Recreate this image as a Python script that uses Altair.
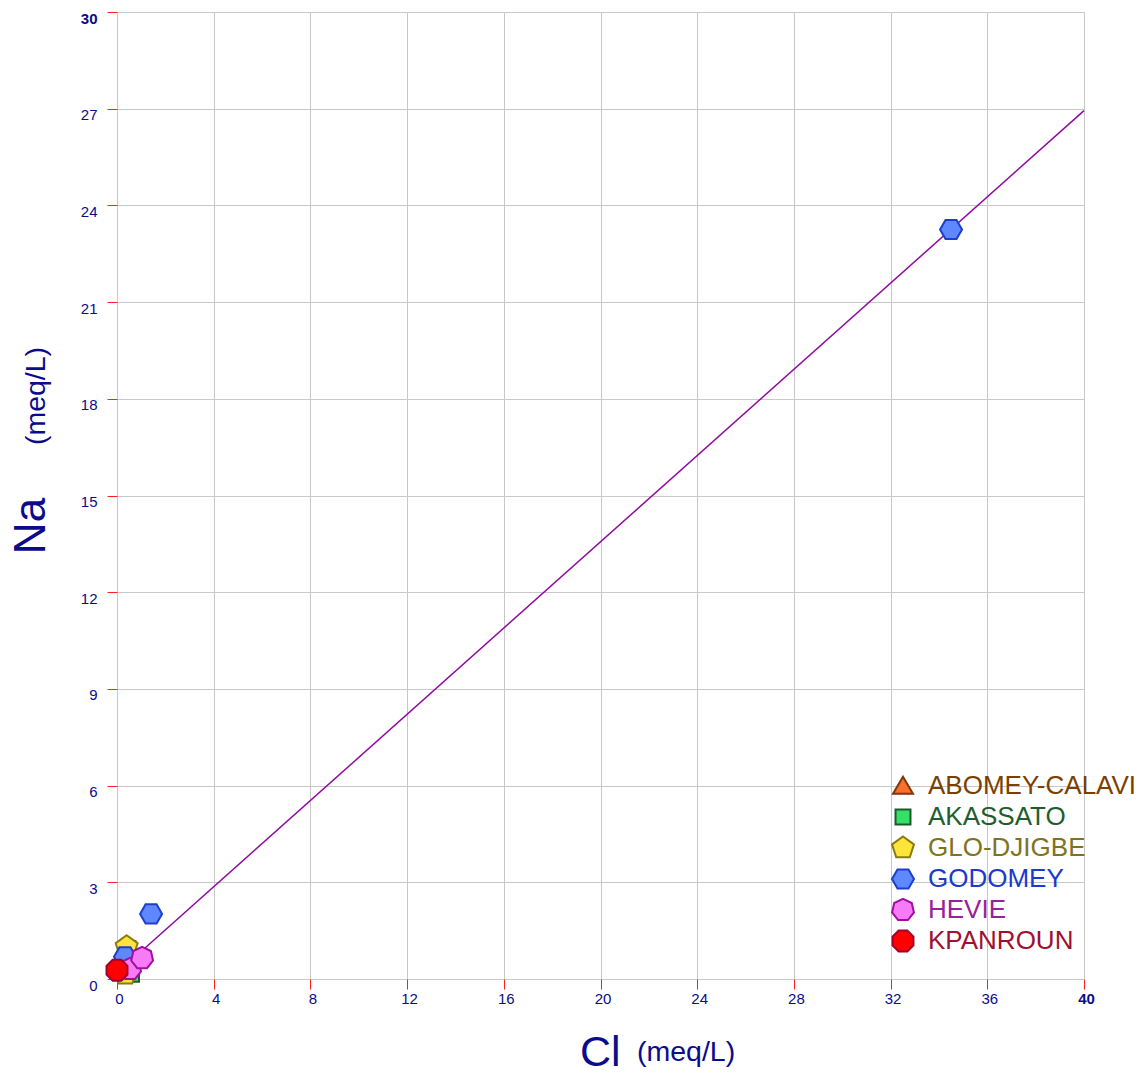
import math
import altair as alt
import pandas as pd

# Sampling sites (legend order) and their styling
sites = ["ABOMEY-CALAVI", "AKASSATO", "GLO-DJIGBE", "GODOMEY", "HEVIE", "KPANROUN"]
fill_colors = ["#FA6E2E", "#35E067", "#FFE43A", "#5F87FF", "#F77BF7", "#FF0000"]
stroke_colors = ["#7A3A0A", "#1A5B2A", "#8A7A10", "#1B3FCC", "#A010A0", "#A00030"]
label_colors = ["#7B3F00", "#1E5E2E", "#7E7320", "#1A3BCC", "#9A209A", "#A01030"]

# Samples: Cl and Na concentrations (meq/L)
sample_site = ["AKASSATO", "AKASSATO", "GLO-DJIGBE", "GLO-DJIGBE", "GODOMEY",
               "GODOMEY", "GODOMEY", "HEVIE", "HEVIE", "KPANROUN"]
cl = [0.45, 0.60, 0.35, 0.40, 0.33, 1.41, 34.5, 0.54, 1.04, 0.0]
na = [0.95, 0.15, 0.15, 1.00, 0.69, 2.02, 23.25, 0.31, 0.65, 0.27]

# Na/Cl trend line end points
line_cl = [0.5, 40.0]
line_na = [0.52, 26.94]

x_ticks = list(range(0, 41, 4))
y_ticks = list(range(0, 31, 3))

NAVY = "#0B0B8C"
FONT = "Liberation Sans"


def polygon(n, radius, start_deg):
    pts = []
    for k in range(n):
        a = math.radians(start_deg + 360.0 * k / n)
        pts.append(f"{radius * math.cos(a):.4f},{radius * math.sin(a):.4f}")
    return "M" + " L".join(pts) + " Z"


shape_paths = [
    "M0,-0.85 L0.91,0.70 L-0.91,0.70 Z",          # triangle
    "M-0.68,-0.68 L0.68,-0.68 L0.68,0.68 L-0.68,0.68 Z",  # square
    polygon(5, 1.05, -90),                         # pentagon
    polygon(6, 1.0, 0),                            # hexagon
    polygon(7, 1.02, -90),                         # heptagon
    polygon(8, 1.03, 22.5),                        # octagon
]

label_expr = " : ".join(
    [f"datum.label == '{s}' ? '{c}'" for s, c in zip(sites, label_colors)]
) + " : '#000000'"

pts = pd.DataFrame({"site": sample_site, "cl": cl, "na": na})
pts["order"] = pts["site"].map({s: i for i, s in enumerate(sites)})
line_df = pd.DataFrame({"cl": line_cl, "na": line_na})

x_scale = alt.Scale(domain=[0, 40], nice=False, zero=True)
y_scale = alt.Scale(domain=[0, 30], nice=False, zero=True)

x_axis = alt.Axis(
    values=x_ticks, title=None, grid=True, gridColor="#C8C8C8", gridWidth=1,
    domain=False, tickColor="#FF2020", tickSize=10, tickWidth=1,
    labelColor=NAVY, labelFont=FONT, labelFontSize=15, labelPadding=2,
    labelOffset=2, labelFlush=False,
    labelFontWeight=alt.condition("datum.value == 40", alt.value("bold"), alt.value("normal")),
)
y_axis = alt.Axis(
    values=y_ticks, title=None, grid=True, gridColor="#C8C8C8", gridWidth=1,
    domain=False, tickColor="#FF2020", tickSize=10, tickWidth=1,
    labelColor=NAVY, labelFont=FONT, labelFontSize=15, labelPadding=10,
    labelOffset=6, labelFlush=False,
    labelFontWeight=alt.condition("datum.value == 30", alt.value("bold"), alt.value("normal")),
)

legend = alt.Legend(
    title=None, orient="none", legendX=773, legendY=761, padding=0,
    labelFont=FONT, labelFontSize=26, labelOffset=12, rowPadding=0,
    gridAlign="all", labelLimit=0, symbolSize=484, symbolStrokeWidth=2,
    symbolOpacity=1, labelColor=alt.ExprRef(expr=label_expr),
)

trend = alt.Chart(line_df).mark_line(color="#8E0C9E", strokeWidth=1.5).encode(
    x=alt.X("cl:Q", scale=x_scale, axis=x_axis),
    y=alt.Y("na:Q", scale=y_scale, axis=y_axis),
)

points = alt.Chart(pts).mark_point(size=484, strokeWidth=2, opacity=1, fillOpacity=1).encode(
    x=alt.X("cl:Q", scale=x_scale),
    y=alt.Y("na:Q", scale=y_scale),
    fill=alt.Fill("site:N", scale=alt.Scale(domain=sites, range=fill_colors), legend=legend),
    stroke=alt.Stroke("site:N", scale=alt.Scale(domain=sites, range=stroke_colors), legend=legend),
    shape=alt.Shape("site:N", scale=alt.Scale(domain=sites, range=shape_paths), legend=legend),
    order=alt.Order("order:Q"),
)

blank = pd.DataFrame({"k": [0]})


def label(text, x, y, size, angle=0, align="left", baseline="alphabetic"):
    return alt.Chart(blank).mark_text(
        text=text, font=FONT, fontSize=size, color=NAVY, angle=angle,
        align=align, baseline=baseline,
    ).encode(x=alt.value(x), y=alt.value(y))


titles = [
    label("Cl", 463, 1054, 43),
    label("(meq/L)", 520, 1049, 28.5),
    label("Na", -72, 514, 44, angle=270, align="center"),
    label("(meq/L)", -72, 384, 28.5, angle=270, align="center"),
]

chart = alt.layer(trend, points, *titles).properties(
    width=967, height=967,
    autosize=alt.AutoSizeParams(type="none"),
    padding={"left": 117, "top": 12, "right": 64, "bottom": 95},
).configure_view(stroke=None)

chart.save("out.html", embed_options={"renderer": "svg", "actions": False})
